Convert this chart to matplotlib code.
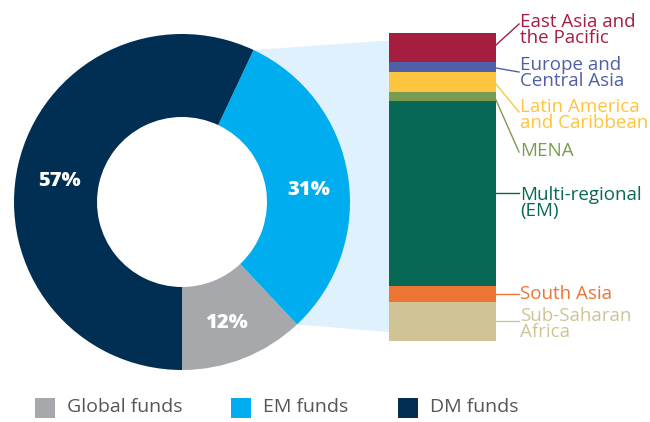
import numpy as np
import matplotlib.pyplot as plt
from matplotlib.patches import Polygon, Rectangle

# ============================================================
# data
# ============================================================
fund_labels = ["Global funds", "EM funds", "DM funds"]
fund_shares = [12, 31, 57]
fund_colors = ["#a7a8ab", "#00adee", "#002f53"]

region_labels = [
    "East Asia and\nthe Pacific",
    "Europe and\nCentral Asia",
    "Latin America\nand Caribbean",
    "MENA",
    "Multi-regional\n(EM)",
    "South Asia",
    "Sub-Saharan\nAfrica",
]
region_shares = [9.3, 3.3, 6.5, 2.9, 60.2, 5.2, 12.6]
region_colors = ["#a51e40", "#4f5fa8", "#fdc43f", "#7a9c52",
                 "#076856", "#ec7533", "#d0c396"]

plt.rcParams["font.family"] = ["Open Sans", "DejaVu Sans"]

# ============================================================
# canvas in pixel units (y up)
# ============================================================
W, H = 650, 422
fig = plt.figure(figsize=(6.5, 4.22), dpi=100)
ax = fig.add_axes([0, 0, 1, 1])

cx, cy = 182, H - 202
r_out, r_w = 168, 83

wedges, _ = ax.pie(
    fund_shares,
    colors=fund_colors,
    startangle=-90,
    counterclock=True,
    radius=r_out,
    center=(cx, cy),
    wedgeprops=dict(width=r_w, linewidth=0),
)

# percent labels
pct_pos = [(227, 323), (309, 190), (59, 181)]
for (px, py), v in zip(pct_pos, fund_shares):
    ax.text(px, H - py, f"{v}%", color="white", fontsize=14.5,
            fontweight="heavy", ha="center", va="center")

# ============================================================
# stacked bar
# ============================================================
bar_left, bar_right = 389, 496
bar_top, bar_bot = H - 33, H - 341
scale = (bar_top - bar_bot) / sum(region_shares)
heights = np.array(region_shares) * scale
bottoms = bar_top - np.cumsum(heights)

# connector
em_t1 = np.deg2rad(-90 + 3.6 * fund_shares[0])
em_t2 = np.deg2rad(-90 + 3.6 * (fund_shares[0] + fund_shares[1]))
poly = Polygon(
    [
        (cx + r_out * np.cos(em_t2), cy + r_out * np.sin(em_t2)),
        (bar_right, bar_top),
        (bar_right, bar_bot),
        (cx + r_out * np.cos(em_t1), cy + r_out * np.sin(em_t1)),
    ],
    closed=True, facecolor="#dff1fc", edgecolor="none", zorder=0,
)
ax.add_patch(poly)

ax.bar(
    [(bar_left + bar_right) / 2] * len(region_shares),
    heights,
    bottom=bottoms,
    width=bar_right - bar_left,
    color=region_colors,
    linewidth=0,
    zorder=3,
)

# ============================================================
# labels with leader lines
# ============================================================
text_x = 520
label_y = [30, 73, 115, 151, 203, 294, 324]
line_pts = [
    ((496, 45), (519, 24)),
    ((496, 68), (519, 72)),
    ((496, 84), (519, 112)),
    ((496, 100), (519, 152)),
    ((496, 193), (519, 193)),
    ((496, 294), (519, 294)),
    ((496, 321), (519, 321)),
]
for lab, col, ly, (p0, p1) in zip(region_labels, region_colors, label_y, line_pts):
    ax.text(text_x, H - ly, lab, color=col, fontsize=13.5,
            ha="left", va="center", linespacing=0.8)
    ax.plot([p0[0], p1[0]], [H - p0[1], H - p1[1]], color=col, lw=1)

# ============================================================
# legend
# ============================================================
leg_sq = [35, 231, 398]
for lab, col, sx in zip(fund_labels, fund_colors, leg_sq):
    ax.add_patch(Rectangle((sx, H - 418), 20, 20, facecolor=col,
                           edgecolor="none"))
    ax.text(sx + 32, H - 407, lab, color="#555555", fontsize=14,
            ha="left", va="center")

ax.set_xlim(0, W)
ax.set_ylim(0, H)
ax.set_aspect("equal")
ax.axis("off")

fig.savefig("out.png", dpi=100)
